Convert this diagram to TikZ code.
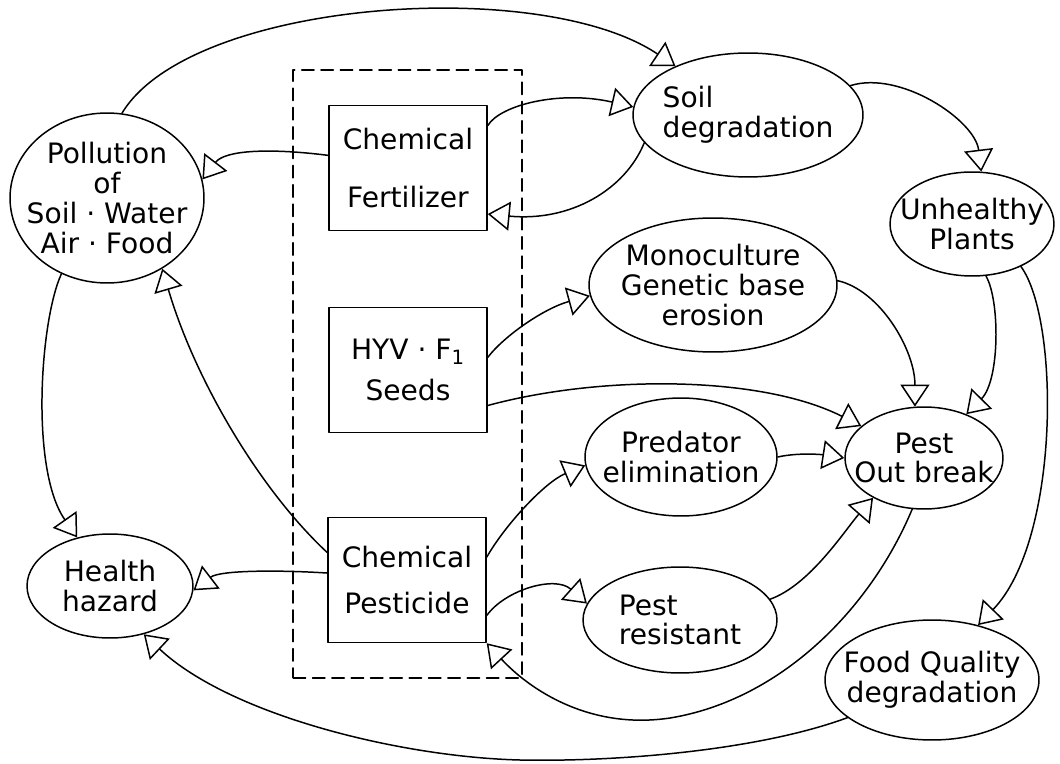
\documentclass[tikz,border=0pt]{standalone}
\usepackage{fontspec}
\setmainfont{DejaVu Sans}
\usetikzlibrary{arrows.meta,shapes.geometric,fit}

\begin{document}
\begin{tikzpicture}[x=0.02cm, y=-0.02cm,
  >={Triangle[open, length=0.44cm, width=0.58cm]},
  line cap=round, line join=round,
  every node/.style={font=\fontsize{16}{17}\selectfont},
  blob/.style n args={2}{draw, ellipse, line width=0.85pt, inner sep=0pt,
    minimum width=#1, minimum height=#2},
  box/.style={draw, line width=0.85pt, minimum width=3.16cm,
    minimum height=2.5cm, inner sep=0pt, align=center},
  txt/.style={align=center, inner sep=0pt},
  frame/.style={draw, dash pattern=on 7pt off 4pt, line width=0.9pt},
  link/.style={->, line width=0.85pt}]
\useasboundingbox (0,0) rectangle (1060,763);

% ---------- inputs ----------
\node[box] (fert) at (408,168) {Chemical\\[0.56cm]Fertilizer};
\node[box] (hyv)  at (408,370) {HYV · F\textsubscript{1}\\[0.22cm]Seeds};
\node[box] (pest) at (407,580) {Chemical\\[0.34cm]Pesticide};
\node[frame, fit=(fert)(hyv)(pest), inner xsep=0.68cm, inner ysep=0.69cm] (grp) {};

% ---------- effects ----------
\node[blob={3.88cm}{3.4cm}] (poll) at (107,198) {};
\node[txt] (poll-t) at (poll) {Pollution\\of\\Soil · Water\\Air · Food};
\node[blob={4.6cm}{2.48cm}] (soil) at (748,115) {};
\node[txt, align=left] (soil-t) at (soil) {Soil\\degradation};
\node[blob={3.28cm}{2.08cm}] (unh) at (972,224) {};
\node[txt] (unh-t) at (unh) {Unhealthy\\Plants};
\node[blob={4.96cm}{2.68cm}] (mono) at (713,285) {};
\node[txt] (mono-t) at (mono) {Monoculture\\Genetic base\\erosion};
\node[blob={3.84cm}{2.36cm}] (pred) at (681,457) {};
\node[txt] (pred-t) at (pred) {Predator\\elimination};
\node[blob={3.16cm}{2.04cm}] (outb) at (924,458) {};
\node[txt] (outb-t) at (outb) {Pest\\Out break};
\node[blob={3.88cm}{2.12cm}] (resis) at (680,620) {};
\node[txt, align=left] (resis-t) at (resis) {Pest\\resistant};
\node[blob={4.28cm}{2.4cm}] (food) at (932,680) {};
\node[txt] (food-t) at (food) {Food Quality\\degradation};
\node[blob={3.32cm}{2.08cm}] (hlth) at (110,586) {};
\node[txt] (hlth-t) at (hlth) {Health\\hazard};

% ---------- links ----------
\draw[link] (poll.80) .. controls (190,0) and (540,-25) .. (soil.146);
\draw[link] (fert.171) .. controls (270,148) and (225,150) .. (poll.11);
\draw[link] (fert.28) .. controls (500,105) and (560,90) .. (soil.176);
\draw[link] (soil.195) .. controls (625,190) and (570,222) .. (fert.-30);
\draw[link] (soil.16) .. controls (900,70) and (975,120) .. (unh.80);
\draw[link] (hyv.9) .. controls (505,335) and (545,308) .. (mono.185);
\draw[link] (hyv.-24) .. controls (600,375) and (760,375) .. (outb.153);
\draw[link] (mono.2) .. controls (880,290) and (915,350) .. (outb.100);
\draw[link] (unh.-75) .. controls (1000,300) and (1000,380) .. (outb.46);
\draw[link] (unh.-41) .. controls (1060,320) and (1060,540) .. (food.50);
\draw[link] (pred.east) .. controls (800,452) and (825,455) .. (outb.west);
\draw[link] (pest.16) .. controls (505,525) and (545,482) .. (pred.185);
\draw[link] (pest.-24) .. controls (505,590) and (555,575) .. (resis.170);
\draw[link] (resis.13) .. controls (810,585) and (845,530) .. (outb.218);
\draw[link] (outb.-103) .. controls (870,610) and (780,700) .. (670,718)
  .. controls (590,730) and (530,690) .. (pest.south east);
\draw[link] (pest.175) .. controls (280,570) and (220,570) .. (hlth.-3);
\draw[link] (pest.161) .. controls (260,490) and (195,380) .. (poll.-52);
\draw[link] (poll.-121) .. controls (40,320) and (30,470) .. (hlth.124);
\draw[link] (food.204) .. controls (760,750) and (620,762) .. (520,760)
  .. controls (400,757) and (230,715) .. (hlth.-55);

\end{tikzpicture}
\end{document}
